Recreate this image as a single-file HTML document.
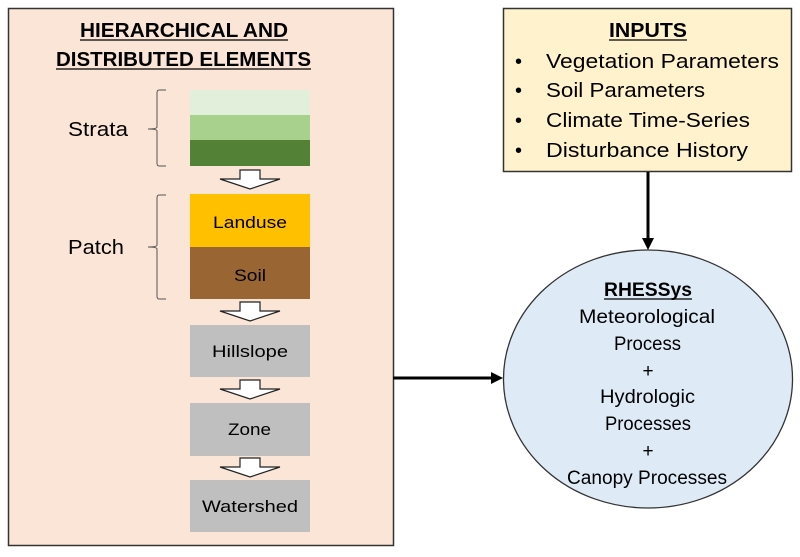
<!DOCTYPE html>
<html><head><style>
body{margin:0;background:#fff;}
svg text{font-family:"Liberation Sans",sans-serif;}
</style></head><body>
<svg width="800" height="552" viewBox="0 0 800 552" xmlns="http://www.w3.org/2000/svg">
<rect x="8.5" y="8.5" width="385" height="537" fill="#fbe5d6" stroke="#333" stroke-width="1.5"/>
<text x="80" y="37" font-size="20" font-weight="bold" textLength="208" lengthAdjust="spacingAndGlyphs">HIERARCHICAL AND</text>
<line x1="80" y1="40" x2="288" y2="40" stroke="#000" stroke-width="1.3"/>
<text x="56" y="66" font-size="20" font-weight="bold" textLength="255" lengthAdjust="spacingAndGlyphs">DISTRIBUTED ELEMENTS</text>
<line x1="56" y1="69" x2="311" y2="69" stroke="#000" stroke-width="1.3"/>
<rect x="190" y="90" width="120" height="25" fill="#e2efda"/>
<rect x="190" y="115" width="120" height="25" fill="#a9d18e"/>
<rect x="190" y="140" width="120" height="26" fill="#538135"/>
<rect x="190" y="194" width="120" height="53" fill="#ffc000"/>
<rect x="190" y="247" width="120" height="52" fill="#996633"/>
<text x="213" y="228" font-size="17" textLength="74" lengthAdjust="spacingAndGlyphs">Landuse</text>
<text x="234" y="281" font-size="17" textLength="32" lengthAdjust="spacingAndGlyphs">Soil</text>
<rect x="190" y="325" width="120" height="52" fill="#bfbfbf"/>
<rect x="190" y="403" width="120" height="53" fill="#bfbfbf"/>
<rect x="190" y="480" width="120" height="52" fill="#bfbfbf"/>
<text x="212" y="357" font-size="17" textLength="76" lengthAdjust="spacingAndGlyphs">Hillslope</text>
<text x="228" y="435" font-size="17" textLength="43" lengthAdjust="spacingAndGlyphs">Zone</text>
<text x="202" y="512" font-size="17" textLength="96" lengthAdjust="spacingAndGlyphs">Watershed</text>
<g fill="#fff" stroke="#222" stroke-width="1.2">
<polygon points="240,170 260,170 260,179 280,179 250,189 220,179 240,179"/>
<polygon points="240,302 260,302 260,311 280,311 250,321 220,311 240,311"/>
<polygon points="240,380 260,380 260,389 280,389 250,399 220,389 240,389"/>
<polygon points="240,458 260,458 260,467 280,467 250,477 220,467 240,467"/>
</g>
<g fill="none" stroke="#555" stroke-width="1">
<path d="M166,90 H159 Q157,90 157,93 V127 Q157,129 148,129 Q157,129 157,131 V163 Q157,166 159,166 H166"/>
<path d="M166,195 H159 Q157,195 157,198 V245 Q157,247 148,247 Q157,247 157,249 V296 Q157,299 159,299 H166"/>
</g>
<text x="68" y="136" font-size="20" textLength="60" lengthAdjust="spacingAndGlyphs">Strata</text>
<text x="68" y="254" font-size="20" textLength="56" lengthAdjust="spacingAndGlyphs">Patch</text>
<rect x="503.5" y="8.5" width="288" height="163" fill="#fff2cc" stroke="#333" stroke-width="1.5"/>
<text x="609" y="37" font-size="20" font-weight="bold" textLength="78" lengthAdjust="spacingAndGlyphs">INPUTS</text>
<line x1="609" y1="40" x2="687" y2="40" stroke="#000" stroke-width="1.3"/>
<g font-size="20">
<text x="515" y="68">•</text><text x="546" y="68" textLength="233" lengthAdjust="spacingAndGlyphs">Vegetation Parameters</text>
<text x="515" y="97">•</text><text x="546" y="97" textLength="159" lengthAdjust="spacingAndGlyphs">Soil Parameters</text>
<text x="515" y="127">•</text><text x="546" y="127" textLength="204" lengthAdjust="spacingAndGlyphs">Climate Time-Series</text>
<text x="515" y="157">•</text><text x="546" y="157" textLength="202" lengthAdjust="spacingAndGlyphs">Disturbance History</text>
</g>
<line x1="648" y1="172" x2="648" y2="240" stroke="#000" stroke-width="3"/>
<polygon points="642,238 654,238 648,250" fill="#000"/>
<line x1="393" y1="378" x2="493" y2="378" stroke="#000" stroke-width="3"/>
<polygon points="491,372 491,384 503,378" fill="#000"/>
<ellipse cx="648" cy="379" rx="144.5" ry="129" fill="#deebf7" stroke="#333" stroke-width="1.3"/>
<g font-size="19">
<text x="604" y="296" font-weight="bold" textLength="88" lengthAdjust="spacingAndGlyphs">RHESSys</text>
<text x="579" y="323" textLength="136" lengthAdjust="spacingAndGlyphs">Meteorological</text>
<text x="614" y="350" textLength="67" lengthAdjust="spacingAndGlyphs">Process</text>
<text x="648" y="377" text-anchor="middle">+</text>
<text x="600" y="403" textLength="95" lengthAdjust="spacingAndGlyphs">Hydrologic</text>
<text x="605" y="430" textLength="86" lengthAdjust="spacingAndGlyphs">Processes</text>
<text x="648" y="457" text-anchor="middle">+</text>
<text x="567" y="484" textLength="160" lengthAdjust="spacingAndGlyphs">Canopy Processes</text>
</g>
<line x1="604" y1="299" x2="692" y2="299" stroke="#000" stroke-width="1.3"/>
</svg>
</body></html>
